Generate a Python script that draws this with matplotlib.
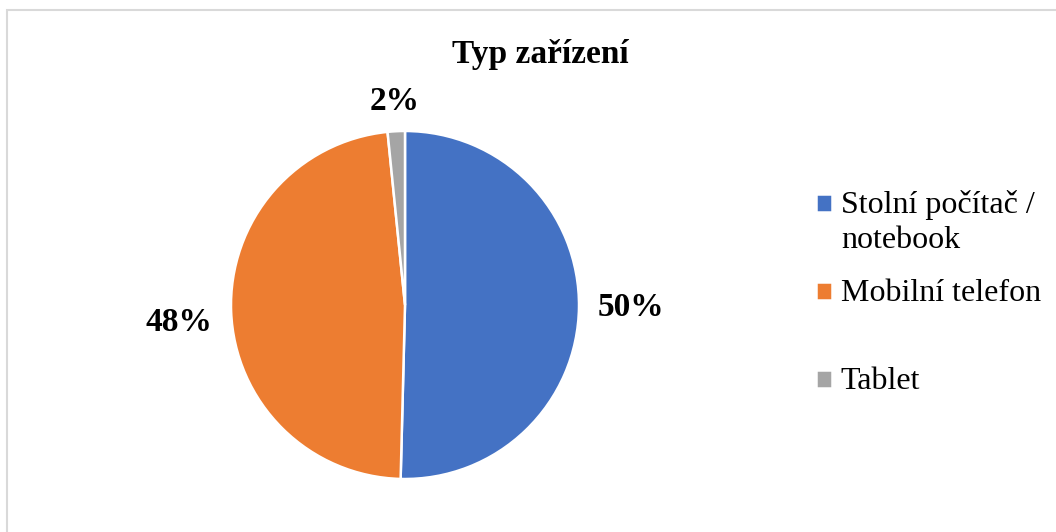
import matplotlib
matplotlib.use("Agg")
import matplotlib.pyplot as plt
import numpy as np
from matplotlib.patches import Rectangle

# data
categories = ["Stolní počítač /\nnotebook", "Mobilní telefon\n ", "Tablet\n "]
shares = [50.4, 48.0, 1.6]
colors = ["#4472C4", "#ED7D31", "#A5A5A5"]

# label placement (radius, vertical nudge) in pie units
label_radius = [1.30, 1.30, 1.17]
label_dy = [0.0, -0.05, 0.0]

W, H = 1056, 532
plt.rcParams["font.family"] = ["Liberation Serif", "DejaVu Serif"]

fig = plt.figure(figsize=(W / 100, H / 100), dpi=100)

# light grey chart frame (cut off on the right / bottom like the original)
fig.patches.append(Rectangle((7 / W, -0.2), 1.2, 1.2 - 10 / H,
                             transform=fig.transFigure, fill=False,
                             edgecolor="#d9d9d9", linewidth=1.5))

cx, cy, r = 405, 532 - 305, 174
ax = fig.add_axes([(cx - r) / W, (cy - r) / H, 2 * r / W, 2 * r / H])
wedges, texts, autotexts = ax.pie(
    shares, colors=colors, startangle=90, counterclock=False,
    autopct="%.0f%%", pctdistance=1.29,
    wedgeprops=dict(edgecolor="white", linewidth=1.8),
    textprops=dict(fontsize=24, fontweight="bold", color="black"),
)
ax.set_xlim(-1, 1)
ax.set_ylim(-1, 1)
ax.set_aspect("equal")

for w, t, rr, dy in zip(wedges, autotexts, label_radius, label_dy):
    ang = np.deg2rad((w.theta1 + w.theta2) / 2)
    t.set_position((rr * np.cos(ang), rr * np.sin(ang) + dy))
    t.set_ha("center")
    t.set_va("center")

fig.text(540 / W, 1 - 54 / H, "Typ zařízení", ha="center", va="center",
         fontsize=24, fontweight="bold")

leg = fig.legend(wedges, categories, loc="upper left",
                 bbox_to_anchor=(816 / W, 1 - 190 / H), frameon=False,
                 fontsize=23, handlelength=0.5, handleheight=0.5,
                 handletextpad=0.28, labelspacing=0.75, borderpad=0,
                 borderaxespad=0)
for t in leg.get_texts():
    t.set_linespacing(1.27)
# put the square next to the first text line, as the original does
for h in leg.legend_handles:
    h.set_y(h.get_y() + 14)

fig.savefig("out.png", dpi=100)
